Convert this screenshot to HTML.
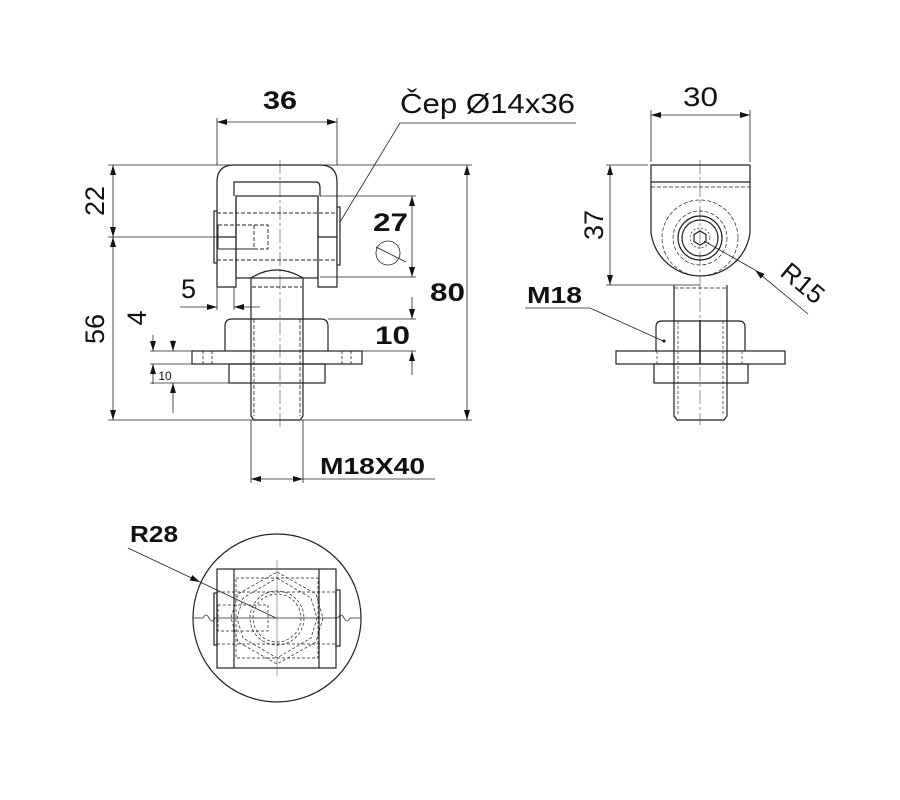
<!DOCTYPE html>
<html><head><meta charset="utf-8"><style>
html,body{margin:0;padding:0;background:#fff;}
svg{display:block;}
text{font-family:"Liberation Sans",sans-serif;fill:#111;}
.b{font-weight:bold;}
</style></head><body>
<svg width="900" height="800" viewBox="0 0 900 800" xmlns="http://www.w3.org/2000/svg">
<defs>
<marker id="a" viewBox="0 0 10 6" refX="10" refY="3" markerWidth="10" markerHeight="6" orient="auto-start-reverse" markerUnits="userSpaceOnUse"><path d="M0,0 L10,3 L0,6 z" fill="#111"/></marker>
</defs>
<g fill="none" stroke="#222" stroke-width="1.2">
<line x1="280" y1="160" x2="280" y2="430" stroke="#666" stroke-width="0.7" stroke-dasharray="14,3,3,3"/>
<path d="M217,287 L217,182 Q217,165 234,165 L320,165 Q337,165 337,182 L337,287 L318,287 L318,196 M217,287 L236,287 L236,196"/>
<path d="M234,196 L234,182 L316,182 Q320,182 320,188 L320,196"/>
<rect x="236" y="196" width="82" height="82"/>
<line x1="217" y1="237" x2="236" y2="237"/>
<line x1="318" y1="237" x2="337" y2="237"/>
<rect x="214" y="211" width="3" height="52" fill="#fff"/>
<rect x="337" y="207" width="3" height="58" fill="#fff"/>
<g stroke-dasharray="4,2" stroke-width="0.9">
<line x1="217" y1="213" x2="337" y2="213"/>
<line x1="217" y1="260" x2="337" y2="260"/>
<rect x="218" y="225" width="50" height="24"/>
<rect x="218" y="225" width="36" height="24"/>
<line x1="252" y1="287" x2="302" y2="287"/>
</g>
<path d="M251,286 L251,278 Q276,262 303,278 L303,286"/>
<path d="M251,286 L251,416 L254,420 L300,420 L303,416 L303,286"/>
<line x1="254" y1="319" x2="254" y2="416" stroke-dasharray="4,2" stroke-width="0.8"/>
<line x1="300" y1="319" x2="300" y2="416" stroke-dasharray="4,2" stroke-width="0.8"/>
<path d="M225,351 L225,326 Q225,319 232,319 L321,319 Q328,319 328,326 L328,351"/>
<rect x="192" y="351" width="170" height="13"/>
<rect x="229" y="364" width="96" height="19"/>
<g stroke-dasharray="3,2" stroke-width="0.8">
<line x1="203" y1="351" x2="203" y2="364"/><line x1="212" y1="351" x2="212" y2="364"/>
<line x1="342" y1="351" x2="342" y2="364"/><line x1="351" y1="351" x2="351" y2="364"/>
</g>
<g stroke-width="0.8">
<line x1="217" y1="118" x2="217" y2="165"/><line x1="337" y1="118" x2="337" y2="165"/>
<line x1="217" y1="122" x2="337" y2="122" marker-start="url(#a)" marker-end="url(#a)"/>
<line x1="108" y1="165" x2="472" y2="165"/>
<line x1="108" y1="420" x2="472" y2="420"/>
<line x1="108" y1="237" x2="236" y2="237"/>
<line x1="113" y1="165" x2="113" y2="237" marker-start="url(#a)" marker-end="url(#a)"/>
<line x1="113" y1="237" x2="113" y2="420" marker-start="url(#a)" marker-end="url(#a)"/>
<line x1="467" y1="165" x2="467" y2="420" marker-start="url(#a)" marker-end="url(#a)"/>
<line x1="320" y1="196" x2="416" y2="196"/><line x1="320" y1="277" x2="416" y2="277"/>
<line x1="412" y1="196" x2="412" y2="277" marker-start="url(#a)" marker-end="url(#a)"/>
<circle cx="388" cy="253" r="12"/>
<line x1="376" y1="247" x2="406" y2="262"/>
<line x1="328" y1="319" x2="416" y2="319"/><line x1="328" y1="351" x2="416" y2="351"/>
<line x1="412" y1="297" x2="412" y2="319" marker-end="url(#a)"/>
<line x1="412" y1="351" x2="412" y2="375" marker-start="url(#a)"/>
<line x1="217" y1="287" x2="217" y2="310"/><line x1="234" y1="287" x2="234" y2="310"/>
<line x1="180" y1="307" x2="217" y2="307" marker-end="url(#a)"/>
<line x1="234" y1="307" x2="260" y2="307" marker-start="url(#a)"/>
<line x1="150" y1="351" x2="192" y2="351"/><line x1="150" y1="364" x2="192" y2="364"/>
<line x1="150" y1="383" x2="229" y2="383"/>
<line x1="153" y1="335" x2="153" y2="351" marker-end="url(#a)"/>
<line x1="153" y1="364" x2="153" y2="384" marker-start="url(#a)"/>
<line x1="173" y1="340" x2="173" y2="351" marker-end="url(#a)"/>
<line x1="173" y1="383" x2="173" y2="413" marker-start="url(#a)"/>
<line x1="251" y1="420" x2="251" y2="483"/><line x1="303" y1="420" x2="303" y2="483"/>
<line x1="251" y1="479" x2="303" y2="479" marker-start="url(#a)" marker-end="url(#a)"/>
<line x1="303" y1="479" x2="435" y2="479"/>
<line x1="400" y1="123" x2="576" y2="123"/>
<line x1="400" y1="123" x2="340" y2="222"/>
</g>
<line x1="700" y1="160" x2="700" y2="425" stroke="#666" stroke-width="0.7" stroke-dasharray="14,3,3,3"/>
<path d="M651,165 L750,165 L750,233 A50,50 0 0 1 651,233 Z"/>
<line x1="651" y1="182" x2="750" y2="182"/>
<line x1="651" y1="187" x2="750" y2="187" stroke-dasharray="4,2" stroke-width="0.7"/>
<circle cx="700" cy="238" r="38" stroke-dasharray="4,2" stroke-width="0.7"/>
<circle cx="700" cy="238" r="27" stroke-dasharray="4,2" stroke-width="0.7"/>
<circle cx="700" cy="238" r="22"/>
<circle cx="700" cy="238" r="18"/>
<circle cx="700" cy="238" r="10" stroke-dasharray="2,2" stroke-width="0.7"/>
<polygon points="700,231 706,234.5 706,241.5 700,245 694,241.5 694,234.5"/>
<path d="M674,285 L674,416 L677,420 L724,420 L727,416 L727,285"/>
<line x1="674" y1="288" x2="727" y2="288" stroke-dasharray="4,2" stroke-width="0.7"/>
<path d="M656,351 L656,327 Q656,321 662,321 L739,321 Q745,321 745,327 L745,351"/>
<rect x="616" y="351" width="169" height="13"/>
<rect x="654" y="364" width="94" height="19"/>
<g stroke-dasharray="3,2" stroke-width="0.7">
<line x1="678" y1="321" x2="678" y2="416"/><line x1="723" y1="321" x2="723" y2="416"/>
<line x1="657" y1="351" x2="657" y2="364"/><line x1="742" y1="351" x2="742" y2="364"/>
</g>
<line x1="700" y1="320" x2="700" y2="364" stroke-width="1.5"/>
<g stroke-width="0.8">
<line x1="651" y1="110" x2="651" y2="162"/><line x1="750" y1="110" x2="750" y2="162"/>
<line x1="651" y1="115" x2="750" y2="115" marker-start="url(#a)" marker-end="url(#a)"/>
<line x1="606" y1="165" x2="648" y2="165"/>
<line x1="606" y1="285" x2="700" y2="285"/>
<line x1="610" y1="165" x2="610" y2="285" marker-start="url(#a)" marker-end="url(#a)"/>
<line x1="808" y1="314" x2="755" y2="270" marker-end="url(#a)"/>
<line x1="755" y1="270" x2="704" y2="241"/>
<line x1="525" y1="308" x2="590" y2="308"/>
<line x1="590" y1="308" x2="663" y2="341"/>
</g>
<circle cx="664" cy="341" r="1" fill="#222"/>
<circle cx="277" cy="618" r="84"/>
<rect x="217" y="569" width="119" height="99"/>
<line x1="234" y1="569" x2="234" y2="668"/>
<line x1="319" y1="569" x2="319" y2="668"/>
<rect x="214" y="593" width="3" height="52"/>
<rect x="336" y="590" width="4" height="56"/>
<path d="M193,618 L203,618 Q206,612 209,618 Q212,624 215,618 L338,618 Q341,612 344,618 Q347,624 350,618 L361,618" stroke-width="0.8"/>
<line x1="277" y1="560" x2="277" y2="676" stroke="#666" stroke-width="0.6"/>
<g stroke-dasharray="3,2" stroke-width="0.7">
<circle cx="277" cy="618" r="24"/>
<circle cx="277" cy="618" r="27"/>
<polygon points="277,572 316,594 323,618 316,642 277,664 238,642 231,618 238,594"/>
<polygon points="277,578 311,598 317,618 311,638 277,658 243,638 237,618 243,598"/>
<rect x="236" y="578" width="82" height="80"/>
<rect x="218" y="605" width="50" height="26"/>
<line x1="217" y1="592" x2="336" y2="592"/>
<line x1="217" y1="644" x2="336" y2="644"/>
</g>
<line x1="128" y1="548" x2="200" y2="582" stroke-width="0.8" marker-end="url(#a)"/>
<line x1="200" y1="582" x2="276" y2="618" stroke-width="0.8"/>
</g>
<text x="263" y="109" font-size="25" class="b" textLength="34" lengthAdjust="spacingAndGlyphs">36</text>
<text x="400" y="113" font-size="28" textLength="175" lengthAdjust="spacingAndGlyphs">Čep Ø14x36</text>
<text x="373" y="231" font-size="25" class="b" textLength="35" lengthAdjust="spacingAndGlyphs">27</text>
<text x="430" y="301" font-size="25" class="b" textLength="35" lengthAdjust="spacingAndGlyphs">80</text>
<text x="375" y="344" font-size="25" class="b" textLength="35" lengthAdjust="spacingAndGlyphs">10</text>
<text x="181" y="298" font-size="27">5</text>
<text x="320" y="474" font-size="23" class="b" textLength="105" lengthAdjust="spacingAndGlyphs">M18X40</text>
<text x="165" y="380" font-size="12" text-anchor="middle">10</text>
<text transform="translate(104,201) rotate(-90)" font-size="27" text-anchor="middle">22</text>
<text transform="translate(104,329) rotate(-90)" font-size="27" text-anchor="middle">56</text>
<text transform="translate(146,318) rotate(-90)" font-size="27" text-anchor="middle">4</text>
<text x="683" y="106" font-size="27" textLength="35" lengthAdjust="spacingAndGlyphs">30</text>
<text transform="translate(603,225) rotate(-90)" font-size="27" text-anchor="middle">37</text>
<text transform="translate(797,290) rotate(40)" font-size="26" text-anchor="middle">R15</text>
<text x="527" y="303" font-size="23" class="b" textLength="55" lengthAdjust="spacingAndGlyphs">M18</text>
<text x="130" y="542" font-size="23" class="b" textLength="48" lengthAdjust="spacingAndGlyphs">R28</text>
</svg>
</body></html>
